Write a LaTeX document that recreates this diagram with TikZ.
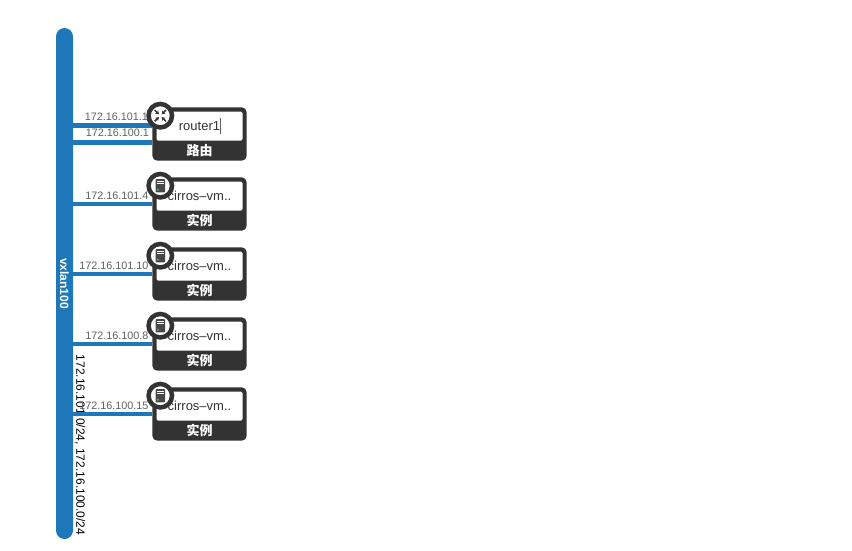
\documentclass[tikz,border=0pt]{standalone}
\usepackage{fontspec}
\setmainfont{Liberation Sans}
\newfontfamily\cjk{Noto Sans CJK SC}
\usepackage{xcolor}
\definecolor{netblue}{RGB}{30,119,184}
\definecolor{boxdark}{RGB}{51,51,51}
\definecolor{iptext}{RGB}{95,95,95}
\definecolor{ledgreen}{RGB}{60,180,75}
\usepackage{tikz}
\usetikzlibrary{calc,positioning,arrows.meta}
\tikzset{
  network/.style={rectangle,fill=netblue,rounded corners=8.5pt,rotate=-90,minimum width=511pt,minimum height=17pt,inner sep=0pt,text=white,font=\fontsize{12}{14}\selectfont\bfseries},
  subnet/.style={rotate=-90,inner sep=0pt,text=black,font=\fontsize{12}{14}\selectfont},
  device/.style={rectangle,fill=boxdark,rounded corners=5pt,minimum width=94.4pt,minimum height=53.4pt,inner sep=0pt},
  devname/.style={rectangle,fill=white,rounded corners=1.5pt,minimum width=86pt,minimum height=29pt,inner sep=0pt,text=boxdark,font=\fontsize{13}{15}\selectfont},
  devtype/.style={inner sep=0pt,text=white,font=\fontsize{13}{15}\selectfont\cjk\bfseries},
  port/.style={draw=netblue,line width=4.6pt},
  iplabel/.style={anchor=east,inner sep=0pt,text=iptext,font=\fontsize{10.8}{13}\selectfont},
  badge/.style={circle,draw=boxdark,fill=white,line width=4.5pt,minimum size=23.5pt,inner sep=0pt},
  srvbadge/.style={badge,path picture={
    \coordinate (c) at (path picture bounding box.center);
    \fill[boxdark!90,rounded corners=0.8pt] ([shift={(-4.7pt,-6.6pt)}]c) rectangle ([shift={(4.7pt,6.6pt)}]c);
    \fill[white] ([shift={(-3.2pt,5pt)}]c) rectangle ([shift={(3.2pt,3.9pt)}]c);
    \fill[white] ([shift={(-3.2pt,2.6pt)}]c) rectangle ([shift={(3.2pt,1.5pt)}]c);
    \fill[ledgreen] ([shift={(-2.4pt,-4pt)}]c) circle (1.3pt);
  }},
  rtrbadge/.style={badge,path picture={
    \coordinate (c) at (path picture bounding box.center);
    \foreach \a in {45,135,225,315}
      \draw[boxdark,line width=1.5pt,-{Stealth[length=3.4pt,width=4.4pt]}] ([shift={(\a:8pt)}]c) -- ([shift={(\a:2pt)}]c);
  }}
}
\begin{document}
\begin{tikzpicture}[x=1pt,y=-1pt]
    \useasboundingbox (0,0) rectangle (852,550);

    \node[subnet] (cidr) at (80,445) {172.16.101.0/24, 172.16.100.0/24};
    \node[network] (vnet) at (64.5,283.5) {vxlan100};

    \node[device] (rtr1) at (199.5,134) {};
    \node[device,below of=rtr1,node distance=70pt] (vm1) {};
    \node[device,below of=vm1,node distance=70pt] (vm2) {};
    \node[device,below of=vm2,node distance=70pt] (vm3) {};
    \node[device,below of=vm3,node distance=70pt] (vm4) {};

    \node[devname,above of=rtr1,node distance=7.8pt] (rtr1name) {router1};
    \node[devname,above of=vm1,node distance=7.8pt] (vm1name) {cirros–vm..};
    \node[devname,above of=vm2,node distance=7.8pt] (vm2name) {cirros–vm..};
    \node[devname,above of=vm3,node distance=7.8pt] (vm3name) {cirros–vm..};
    \node[devname,above of=vm4,node distance=7.8pt] (vm4name) {cirros–vm..};

    \node[devtype,below of=rtr1name,node distance=24.6pt] (rtr1type) {路由};
    \node[devtype,below of=vm1name,node distance=24.6pt] (vm1type) {实例};
    \node[devtype,below of=vm2name,node distance=24.6pt] (vm2type) {实例};
    \node[devtype,below of=vm3name,node distance=24.6pt] (vm3type) {实例};
    \node[devtype,below of=vm4name,node distance=24.6pt] (vm4type) {实例};

    % text cursor in the router name
    \draw[iptext,line width=0.7pt] ([shift={(20.6pt,8pt)}]rtr1name.center) -- ([shift={(20.6pt,-8pt)}]rtr1name.center);

    \draw[port] ([yshift=8.5pt]rtr1.west) -- ([yshift=8.5pt]rtr1.west -| vnet.north);
    \draw[port] ([yshift=-8.5pt]rtr1.west) -- ([yshift=-8.5pt]rtr1.west -| vnet.north);
    \draw[port] (vm1.west) -- (vm1.west -| vnet.north);
    \draw[port] (vm2.west) -- (vm2.west -| vnet.north);
    \draw[port] (vm3.west) -- (vm3.west -| vnet.north);
    \draw[port] (vm4.west) -- (vm4.west -| vnet.north);

    \node[iplabel] (ip1) at ([shift={(-4pt,17pt)}]rtr1.west) {172.16.101.1};
    \node[iplabel] (ip2) at ([shift={(-3pt,1pt)}]rtr1.west) {172.16.100.1};
    \node[iplabel] (ip3) at ([shift={(-3.5pt,8pt)}]vm1.west) {172.16.101.4};
    \node[iplabel] (ip4) at ([shift={(-3.5pt,8pt)}]vm2.west) {172.16.101.10};
    \node[iplabel] (ip5) at ([shift={(-3.5pt,8pt)}]vm3.west) {172.16.100.8};
    \node[iplabel] (ip6) at ([shift={(-3.5pt,8pt)}]vm4.west) {172.16.100.15};

    \node[rtrbadge] (rtr1icon) at ([shift={(-39.2pt,18.3pt)}]rtr1.center) {};
    \node[srvbadge] (vm1icon) at ([shift={(-39.2pt,18.3pt)}]vm1.center) {};
    \node[srvbadge] (vm2icon) at ([shift={(-39.2pt,18.3pt)}]vm2.center) {};
    \node[srvbadge] (vm3icon) at ([shift={(-39.2pt,18.3pt)}]vm3.center) {};
    \node[srvbadge] (vm4icon) at ([shift={(-39.2pt,18.3pt)}]vm4.center) {};
\end{tikzpicture}
\end{document}
